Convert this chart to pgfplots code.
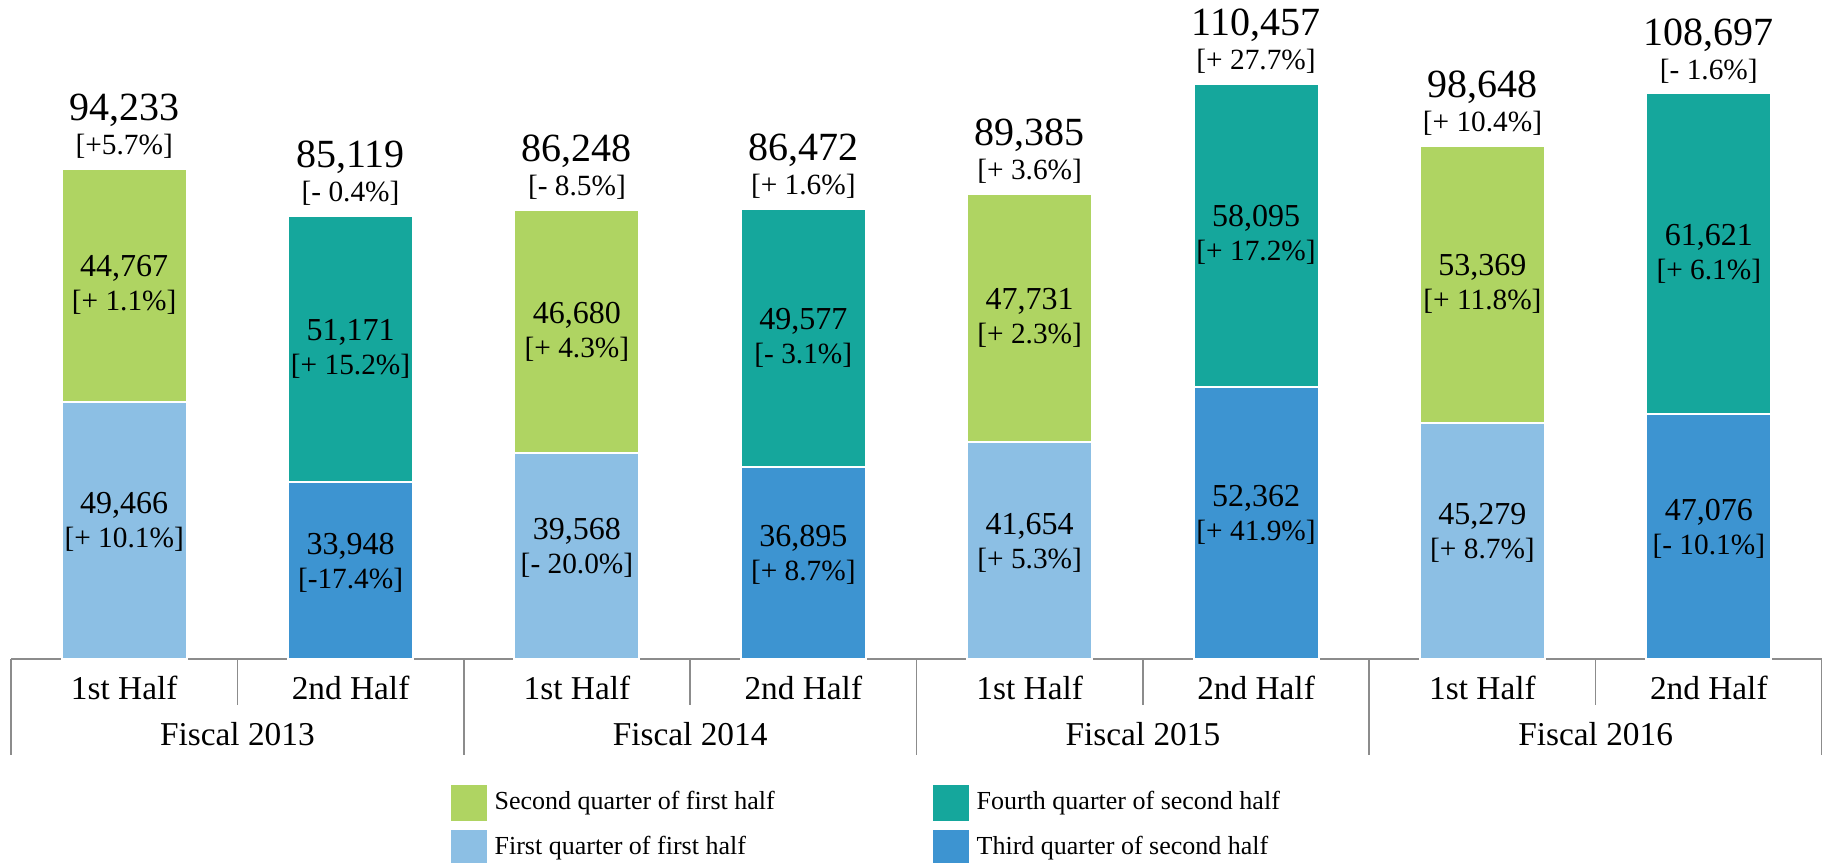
\documentclass[border=0pt]{standalone}
\usepackage{fontspec}
\setmainfont{Liberation Serif}
\usepackage{pgfplots}
\usepackage{pgfplotstable}
\pgfplotsset{compat=1.18}

\definecolor{qone}{HTML}{8CBFE4}
\definecolor{qtwo}{HTML}{AFD462}
\definecolor{qthree}{HTML}{3D94D1}
\definecolor{qfour}{HTML}{15A79C}
\definecolor{rulegray}{HTML}{8C8C8C}

\newcommand\totfont{\fontsize{12}{12}\selectfont}
\newcommand\valfont{\fontsize{9.6}{9.6}\selectfont}
\newcommand\pctfont{\fontsize{8.8}{8.8}\selectfont}
\newcommand\catfont{\fontsize{10}{10}\selectfont}
\newcommand\legfont{\fontsize{7.8}{7.8}\selectfont}

% lo = lower quarter, up = upper quarter, tot = half-year total
\pgfplotstableread{
x lo up tot lov upv totv lop upp totp
0 49466 44767 94233 49,466 44,767 94,233 {[+ 10.1\%]} {[+ 1.1\%]} {[+5.7\%]}
1 33948 51171 85119 33,948 51,171 85,119 {[-17.4\%]} {[+ 15.2\%]} {[- 0.4\%]}
2 39568 46680 86248 39,568 46,680 86,248 {[- 20.0\%]} {[+ 4.3\%]} {[- 8.5\%]}
3 36895 49577 86472 36,895 49,577 86,472 {[+ 8.7\%]} {[- 3.1\%]} {[+ 1.6\%]}
4 41654 47731 89385 41,654 47,731 89,385 {[+ 5.3\%]} {[+ 2.3\%]} {[+ 3.6\%]}
5 52362 58095 110457 52,362 58,095 110,457 {[+ 41.9\%]} {[+ 17.2\%]} {[+ 27.7\%]}
6 45279 53369 98648 45,279 53,369 98,648 {[+ 8.7\%]} {[+ 11.8\%]} {[+ 10.4\%]}
7 47076 61621 108697 47,076 61,621 108,697 {[- 10.1\%]} {[+ 6.1\%]} {[- 1.6\%]}
}\sales

\pgfplotsset{
  seg/.style={ybar, bar width=37.5pt, bar shift=0pt, draw=white, line width=0.6pt, forget plot},
  firsthalf/.style={x filter/.expression={mod(x,2)==0 ? x : nan}},
  secondhalf/.style={x filter/.expression={mod(x,2)==1 ? x : nan}},
  lbl/.style={draw=none, forget plot, point meta=explicit symbolic, nodes near coords,
    every node near coord/.style={anchor=base, inner sep=0pt, yshift=#1}},
}

\begin{document}
\begin{tikzpicture}
\useasboundingbox (0,0) rectangle (546.6pt,258.9pt);
\begin{axis}[
    at={(3.3pt,61.2pt)}, anchor=south west,
    scale only axis,
    width=543.3pt, height=197.7pt,
    xmin=-0.5, xmax=7.5,
    ymin=0, ymax=126660,
    clip=false,
    axis x line*=bottom,
    axis y line=none,
    x axis line style={rulegray, line width=0.5pt},
    xtick={0,...,7},
    xticklabels={1st Half,2nd Half,1st Half,2nd Half,1st Half,2nd Half,1st Half,2nd Half},
    major tick length=0pt,
    xticklabel style={font=\catfont, anchor=center, yshift=-8.7pt},
    ytick=\empty,
    legend columns=2,
    legend image code/.code={\fill[#1, draw=none] (0pt,-5.4pt) rectangle (10.8pt,5.4pt);},
    legend style={draw=none, fill=none, font=\legfont,
      at={(0.2424,-0.19)}, anchor=north west, inner sep=0pt,
      cells={anchor=west}, row sep=2.7pt,
      nodes={inner xsep=2.4pt, inner ysep=0pt}},
]
% upper quarter drawn as the full half-year bar, lower quarter on top of it
\addplot[seg, firsthalf, fill=qtwo] table[x=x, y=tot] {\sales};
\addplot[seg, secondhalf, fill=qfour] table[x=x, y=tot] {\sales};
\addplot[seg, firsthalf, fill=qone] table[x=x, y=lo] {\sales};
\addplot[seg, secondhalf, fill=qthree] table[x=x, y=lo] {\sales};

% labels
\addplot[lbl=4.9pt, every node near coord/.append style={font=\valfont}]
  table[x=x, y expr=\thisrow{lo}/2, meta=lov] {\sales};
\addplot[lbl=-5.3pt, every node near coord/.append style={font=\pctfont}]
  table[x=x, y expr=\thisrow{lo}/2, meta=lop] {\sales};
\addplot[lbl=2.6pt, every node near coord/.append style={font=\valfont}]
  table[x=x, y expr=\thisrow{lo}+\thisrow{up}/2, meta=upv] {\sales};
\addplot[lbl=-7.6pt, every node near coord/.append style={font=\pctfont}]
  table[x=x, y expr=\thisrow{lo}+\thisrow{up}/2, meta=upp] {\sales};
\addplot[lbl=14.5pt, every node near coord/.append style={font=\totfont}]
  table[x=x, y=tot, meta=totv] {\sales};
\addplot[lbl=4.3pt, every node near coord/.append style={font=\pctfont}]
  table[x=x, y=tot, meta=totp] {\sales};

% category separators
\draw[rulegray, line width=0.5pt] (axis cs:-0.5,0) -- ++(0pt,-28.8pt);
\draw[rulegray, line width=0.5pt] (axis cs:1.5,0) -- ++(0pt,-28.8pt);
\draw[rulegray, line width=0.5pt] (axis cs:3.5,0) -- ++(0pt,-28.8pt);
\draw[rulegray, line width=0.5pt] (axis cs:5.5,0) -- ++(0pt,-28.8pt);
\draw[rulegray, line width=0.5pt] (axis cs:7.5,0) -- ++(0pt,-28.8pt);
\draw[rulegray, line width=0.5pt] (axis cs:0.5,0) -- ++(0pt,-13.8pt);
\draw[rulegray, line width=0.5pt] (axis cs:2.5,0) -- ++(0pt,-13.8pt);
\draw[rulegray, line width=0.5pt] (axis cs:4.5,0) -- ++(0pt,-13.8pt);
\draw[rulegray, line width=0.5pt] (axis cs:6.5,0) -- ++(0pt,-13.8pt);

\node[font=\catfont, yshift=-22.5pt] at (axis cs:0.5,0) {Fiscal 2013};
\node[font=\catfont, yshift=-22.5pt] at (axis cs:2.5,0) {Fiscal 2014};
\node[font=\catfont, yshift=-22.5pt] at (axis cs:4.5,0) {Fiscal 2015};
\node[font=\catfont, yshift=-22.5pt] at (axis cs:6.5,0) {Fiscal 2016};

\addlegendimage{fill=qtwo}
\addlegendentry{\makebox[129pt][l]{Second quarter of first half}}
\addlegendimage{fill=qfour}
\addlegendentry{Fourth quarter of second half}
\addlegendimage{fill=qone}
\addlegendentry{\makebox[129pt][l]{First quarter of first half}}
\addlegendimage{fill=qthree}
\addlegendentry{Third quarter of second half}
\end{axis}
\end{tikzpicture}
\end{document}
